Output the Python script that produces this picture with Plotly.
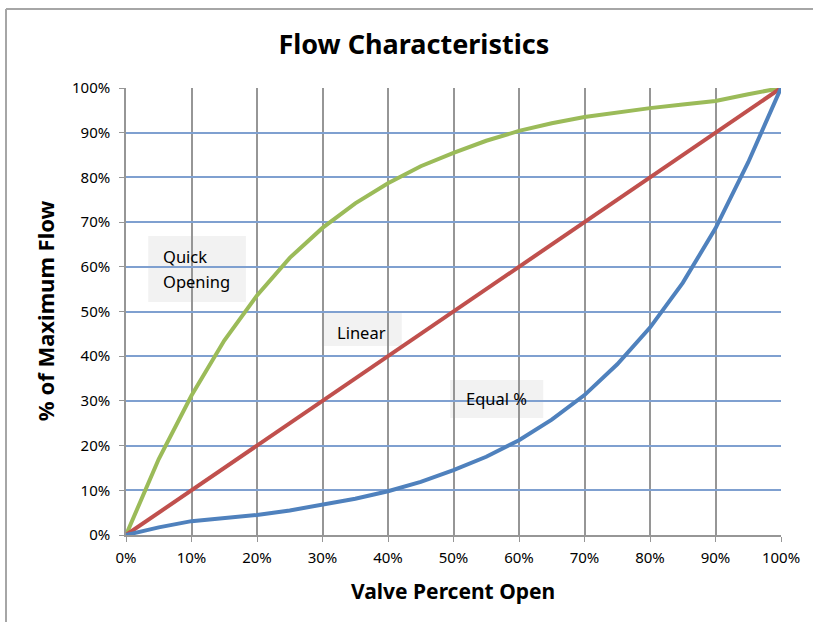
import plotly.graph_objects as go

valve_open = [0, 5, 10, 15, 20, 25, 30, 35, 40, 45, 50, 55, 60, 65, 70, 75, 80, 85, 90, 95, 100]
quick_opening = [0, 17, 31.2, 43.5, 53.6, 62, 68.7, 74.2, 78.7, 82.5, 85.5, 88.2, 90.4, 92.1, 93.5, 94.6, 95.5, 96.3, 97.1, 98.6, 100]
linear = [0, 5, 10, 15, 20, 25, 30, 35, 40, 45, 50, 55, 60, 65, 70, 75, 80, 85, 90, 95, 100]
equal_pct = [0, 1.7, 3.1, 3.8, 4.5, 5.5, 6.7, 8.1, 9.8, 11.9, 14.5, 17.5, 21.2, 25.8, 31.3, 38.2, 46.4, 56.4, 68.6, 83.4, 100]
tick_vals = [0, 10, 20, 30, 40, 50, 60, 70, 80, 90, 100]
tick_text = ["0%", "10%", "20%", "30%", "40%", "50%", "60%", "70%", "80%", "90%", "100%"]

FONT = "Noto Sans"
GREEN, RED, BLUE = "#9BBB59", "#C0504D", "#4F81BD"

fig = go.Figure()
fig.add_trace(go.Scatter(x=valve_open, y=quick_opening, mode="lines", name="Quick Opening",
                         line=dict(color=GREEN, width=4)))
fig.add_trace(go.Scatter(x=valve_open, y=linear, mode="lines", name="Linear",
                         line=dict(color=RED, width=4)))
fig.add_trace(go.Scatter(x=valve_open, y=equal_pct, mode="lines", name="Equal %",
                         line=dict(color=BLUE, width=4)))

shapes = []
# label boxes (data coords)
for x0, x1, y0, y1 in [(3.4, 18.3, 52.1, 66.9), (29.9, 42.1, 42.3, 49.7), (49.5, 63.7, 26.2, 34.7)]:
    shapes.append(dict(type="rect", xref="x", yref="y", x0=x0, x1=x1, y0=y0, y1=y1,
                       fillcolor="#F2F2F2", line=dict(width=0), layer="below"))
# outer chart border (left and top)
shapes.append(dict(type="line", xref="paper", yref="paper", x0=-0.1832, x1=-0.1832, y0=-0.2, y1=1.1767,
                   line=dict(color="#A6A6A6", width=2)))
shapes.append(dict(type="line", xref="paper", yref="paper", x0=-0.1832, x1=1.06, y0=1.1767, y1=1.1767,
                   line=dict(color="#A6A6A6", width=2)))

annos = [
    dict(x=5.3, y=62.4, text="Quick", xanchor="left", yanchor="middle"),
    dict(x=5.3, y=56.8, text="Opening", xanchor="left", yanchor="middle"),
    dict(x=36.0, y=45.3, text="Linear", xanchor="center", yanchor="middle"),
    dict(x=56.6, y=30.5, text="Equal %", xanchor="center", yanchor="middle"),
]
annotations = []
for a in annos:
    a.update(xref="x", yref="y", showarrow=False, font=dict(family=FONT, size=16.5, color="#000000"))
    annotations.append(a)
annotations.append(dict(xref="paper", yref="paper", x=-0.1237, y=0.503, text="<b>% of Maximum Flow</b>",
                        textangle=-90, showarrow=False, xanchor="center", yanchor="middle",
                        font=dict(family=FONT, size=22, color="#000000")))
annotations.append(dict(xref="paper", yref="paper", x=0.4992, y=-0.1253, text="<b>Valve Percent Open</b>",
                        showarrow=False, xanchor="center", yanchor="middle",
                        font=dict(family=FONT, size=21, color="#000000")))

fig.update_layout(
    width=813, height=622,
    margin=dict(l=126, r=32, t=88, b=87),
    paper_bgcolor="white", plot_bgcolor="white",
    showlegend=False,
    title=dict(text="<b>Flow Characteristics</b>", x=0.509, xanchor="center", y=1 - 45 / 622,
               yanchor="middle", yref="container",
               font=dict(family=FONT, size=27, color="#000000")),
    shapes=shapes, annotations=annotations,
    font=dict(family=FONT, size=15, color="#000000"),
)
fig.update_xaxes(range=[0, 100], tickmode="array", tickvals=tick_vals, ticktext=tick_text, showgrid=True,
                 gridcolor="#969696", gridwidth=1.5, showline=True, linecolor="#969696", linewidth=1.5,
                 ticks="outside", ticklen=5, tickcolor="#969696", zeroline=False, ticklabelstandoff=3,
                 tickfont=dict(family=FONT, size=15, color="#000000"))
fig.update_yaxes(range=[0, 100], tickmode="array", tickvals=tick_vals, ticktext=tick_text, showgrid=True,
                 gridcolor="#7FA0D0", gridwidth=1.5, showline=True, linecolor="#969696", linewidth=1.5,
                 ticks="outside", ticklen=5, tickcolor="#969696", zeroline=False, ticklabelstandoff=6,
                 tickfont=dict(family=FONT, size=15, color="#000000"))

fig.write_html("out.html", config={"displayModeBar": False},
               post_script="document.body.style.margin='0';document.body.style.overflow='hidden';")
